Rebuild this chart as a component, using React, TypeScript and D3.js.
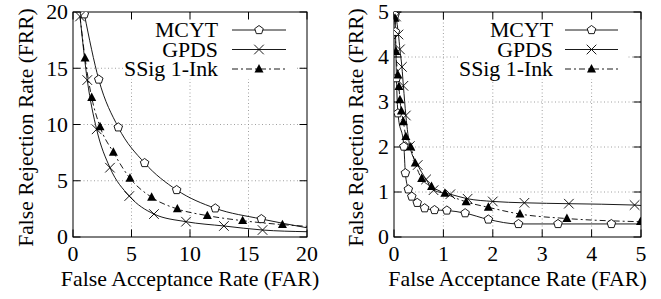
import React from 'react'
import * as d3 from 'd3'

// tick labels
const leftTicks = [0, 5, 10, 15, 20]
const rightTicks = [0, 1, 2, 3, 4, 5]
const seriesNames = ['MCYT', 'GPDS', 'SSig 1-Ink']

// left panel (0-20 %)
const mcytLeft = [[0.97, 19.8], [2.2, 14.0], [3.87, 9.75], [6.12, 6.58], [8.86, 4.18], [12.16, 2.55], [16.1, 1.6]]
const mcytLeftTail = [[20, 0.82]]
const gpdsLeft = [[0.6, 19.6], [1.22, 13.95], [2.02, 9.57], [3.16, 6.16], [4.81, 3.64], [6.92, 2.04], [9.66, 1.36], [12.9, 0.98], [16.2, 0.62]]
const gpdsLeftTail = [[20, 0.47]]
const ssigLeft = [[1.03, 15.9], [1.6, 12.4], [2.31, 9.8], [3.45, 7.53], [4.87, 5.22], [6.72, 3.53], [8.92, 2.49], [11.48, 1.9], [14.5, 1.45], [17.9, 1.1]]
const ssigLeftHead = [[0.6, 19.6]]
const ssigLeftTail = [[20, 0.95]]

// right panel (0-5 %, zoomed)
const mcytRight = [[0.02, 4.93], [0.03, 4.56], [0.05, 3.53], [0.08, 2.75], [0.2, 2.01], [0.23, 1.42], [0.29, 1.06], [0.36, 0.9], [0.47, 0.76], [0.62, 0.64], [0.82, 0.6], [1.07, 0.59], [1.44, 0.53], [1.91, 0.39], [2.52, 0.29], [3.32, 0.29], [4.4, 0.29]]
const mcytRightTail = [[5, 0.29]]
const gpdsRight = [[0.04, 4.9], [0.09, 4.5], [0.12, 4.17], [0.16, 3.78], [0.19, 3.36], [0.24, 2.7], [0.32, 2.02], [0.48, 1.6], [0.65, 1.28], [0.8, 1.04], [1.14, 0.95], [1.49, 0.85], [2.0, 0.79], [2.64, 0.76], [3.54, 0.74], [4.87, 0.71]]
const gpdsRightTail = [[5, 0.7]]
const ssigRight = [[0.02, 4.86], [0.04, 4.12], [0.08, 3.6], [0.1, 3.34], [0.12, 3.05], [0.15, 2.8], [0.19, 2.56], [0.24, 2.23], [0.34, 2.0], [0.43, 1.64], [0.56, 1.3], [0.76, 1.12], [1.03, 0.97], [1.46, 0.78], [1.91, 0.66], [2.55, 0.51], [3.5, 0.41], [4.99, 0.34]]

const font = '"Liberation Serif", "Times New Roman", serif'
const fs = 21
const stretch = 1.04

type Pt = number[]
type Series = { marks: Pt[]; line: Pt[]; kind: string }

const Label = ({ x, y, anchor, mid, children }: any) => (
  <g transform={`translate(${x},${y}) scale(${stretch},1)`}>
    <text textAnchor={anchor} dy={mid ? '0.35em' : undefined} fontSize={fs} fontFamily={font}>{children}</text>
  </g>
)

const Marker = ({ kind, x, y }: { kind: string; x: number; y: number }) => {
  if (kind === 'pent') {
    const r = 4.5
    const pts = d3.range(5).map(i => {
      const a = -Math.PI / 2 + (i * 2 * Math.PI) / 5
      return `${x + r * Math.cos(a)},${y + r * Math.sin(a)}`
    }).join(' ')
    return <polygon points={pts} fill="white" stroke="black" strokeWidth={0.9} />
  }
  if (kind === 'cross') {
    const s = 4.8
    return <path d={`M${x - s},${y - s}L${x + s},${y + s}M${x - s},${y + s}L${x + s},${y - s}`} stroke="black" strokeWidth={0.9} />
  }
  const s = 4.5
  return <path d={`M${x},${y - s - 0.5}L${x + s},${y + s * 0.75}L${x - s},${y + s * 0.75}Z`} fill="black" />
}

const Panel = ({ id, x0, x1, max, ticks, series, keyBox, keyText, keyLine, titleX }: any) => {
  const top = 12, bottom = 237
  const xs = d3.scaleLinear().domain([0, max]).range([x0, x1])
  const ys = d3.scaleLinear().domain([0, max]).range([bottom, top])
  const line = d3.line<Pt>().x(d => xs(d[0])).y(d => ys(d[1])).curve(d3.curveMonotoneX)
  const inner = ticks.slice(1, -1)
  const tick = 7.5
  const rows = [30, 49.5, 69]
  return (
    <g>
      <defs>
        <clipPath id={id}>
          <rect x={x0} y={top} width={x1 - x0} height={bottom - top} />
        </clipPath>
      </defs>
      {inner.map((t: number) => (
        <g key={'g' + t}>
          <line x1={xs(t)} x2={xs(t)} y1={top} y2={bottom} stroke="#888" strokeWidth={0.8} strokeDasharray="1,2.5" />
          <line x1={x0} x2={x1} y1={ys(t)} y2={ys(t)} stroke="#888" strokeWidth={0.8} strokeDasharray="1,2.5" />
        </g>
      ))}
      <rect x={keyBox[0]} y={top + 1} width={keyBox[1] - keyBox[0]} height={keyBox[2] - top} fill="white" />
      <rect x={x0} y={top} width={x1 - x0} height={bottom - top} fill="none" stroke="black" strokeWidth={1} />
      {ticks.map((t: number) => (
        <g key={'t' + t}>
          <line x1={xs(t)} x2={xs(t)} y1={bottom} y2={bottom - tick} stroke="black" />
          <line x1={xs(t)} x2={xs(t)} y1={top} y2={top + tick} stroke="black" />
          <line x1={x0} x2={x0 + tick} y1={ys(t)} y2={ys(t)} stroke="black" />
          <line x1={x1} x2={x1 - tick} y1={ys(t)} y2={ys(t)} stroke="black" />
          <Label x={xs(t)} y={261} anchor="middle">{t}</Label>
          <Label x={x0 - 5} y={ys(t)} anchor="end" mid>{t}</Label>
        </g>
      ))}
      <Label x={(x0 + x1) / 2} y={286} anchor="middle">False Acceptance Rate (FAR)</Label>
      <g transform={`translate(${titleX},${(top + bottom) / 2 + 3}) rotate(-90)`}>
        <text textAnchor="middle" fontSize={21.5} fontFamily={font}>False Rejection Rate (FRR)</text>
      </g>
      <g clipPath={`url(#${id})`}>
        {series.map((s: Series, i: number) => (
          <path key={'l' + i} d={line(s.line) || ''} fill="none" stroke="black" strokeWidth={0.9}
            strokeDasharray={s.kind === 'tri' ? '6,3,2,3' : undefined} />
        ))}
        {series.map((s: Series, i: number) => s.marks.map((p, j) => (
          <Marker key={`m${i}-${j}`} kind={s.kind} x={xs(p[0])} y={ys(p[1])} />
        )))}
      </g>
      {series.map((s: Series, i: number) => (
        <g key={'k' + i}>
          <Label x={keyText} y={rows[i]} anchor="end" mid>{seriesNames[i]}</Label>
          <line x1={keyLine[0]} x2={keyLine[1]} y1={rows[i]} y2={rows[i]} stroke="black" strokeWidth={0.9}
            strokeDasharray={s.kind === 'tri' ? '6,3,2,3' : undefined} />
          <Marker kind={s.kind} x={(keyLine[0] + keyLine[1]) / 2} y={rows[i]} />
        </g>
      ))}
    </g>
  )
}

export default function App() {
  const leftSeries: Series[] = [
    { marks: mcytLeft, line: [...mcytLeft, ...mcytLeftTail], kind: 'pent' },
    { marks: gpdsLeft, line: [...gpdsLeft, ...gpdsLeftTail], kind: 'cross' },
    { marks: ssigLeft, line: [...ssigLeftHead, ...ssigLeft, ...ssigLeftTail], kind: 'tri' },
  ]
  const rightSeries: Series[] = [
    { marks: mcytRight, line: [...mcytRight, ...mcytRightTail], kind: 'pent' },
    { marks: gpdsRight, line: [...gpdsRight, ...gpdsRightTail], kind: 'cross' },
    { marks: ssigRight, line: ssigRight, kind: 'tri' },
  ]
  return (
    <svg width={661} height={299} style={{ position: 'absolute', left: 0, top: 0, background: 'white' }}>
      <rect width={661} height={299} fill="white" />
      <Panel id="clipL" x0={73} x1={307} max={20} ticks={leftTicks} series={leftSeries}
        keyBox={[125, 296, 78]} keyText={218} keyLine={[232, 286]} titleX={33} />
      <Panel id="clipR" x0={394} x1={641} max={5} ticks={rightTicks} series={rightSeries}
        keyBox={[458, 626, 78]} keyText={553} keyLine={[565, 618]} titleX={363} />
    </svg>
  )
}
